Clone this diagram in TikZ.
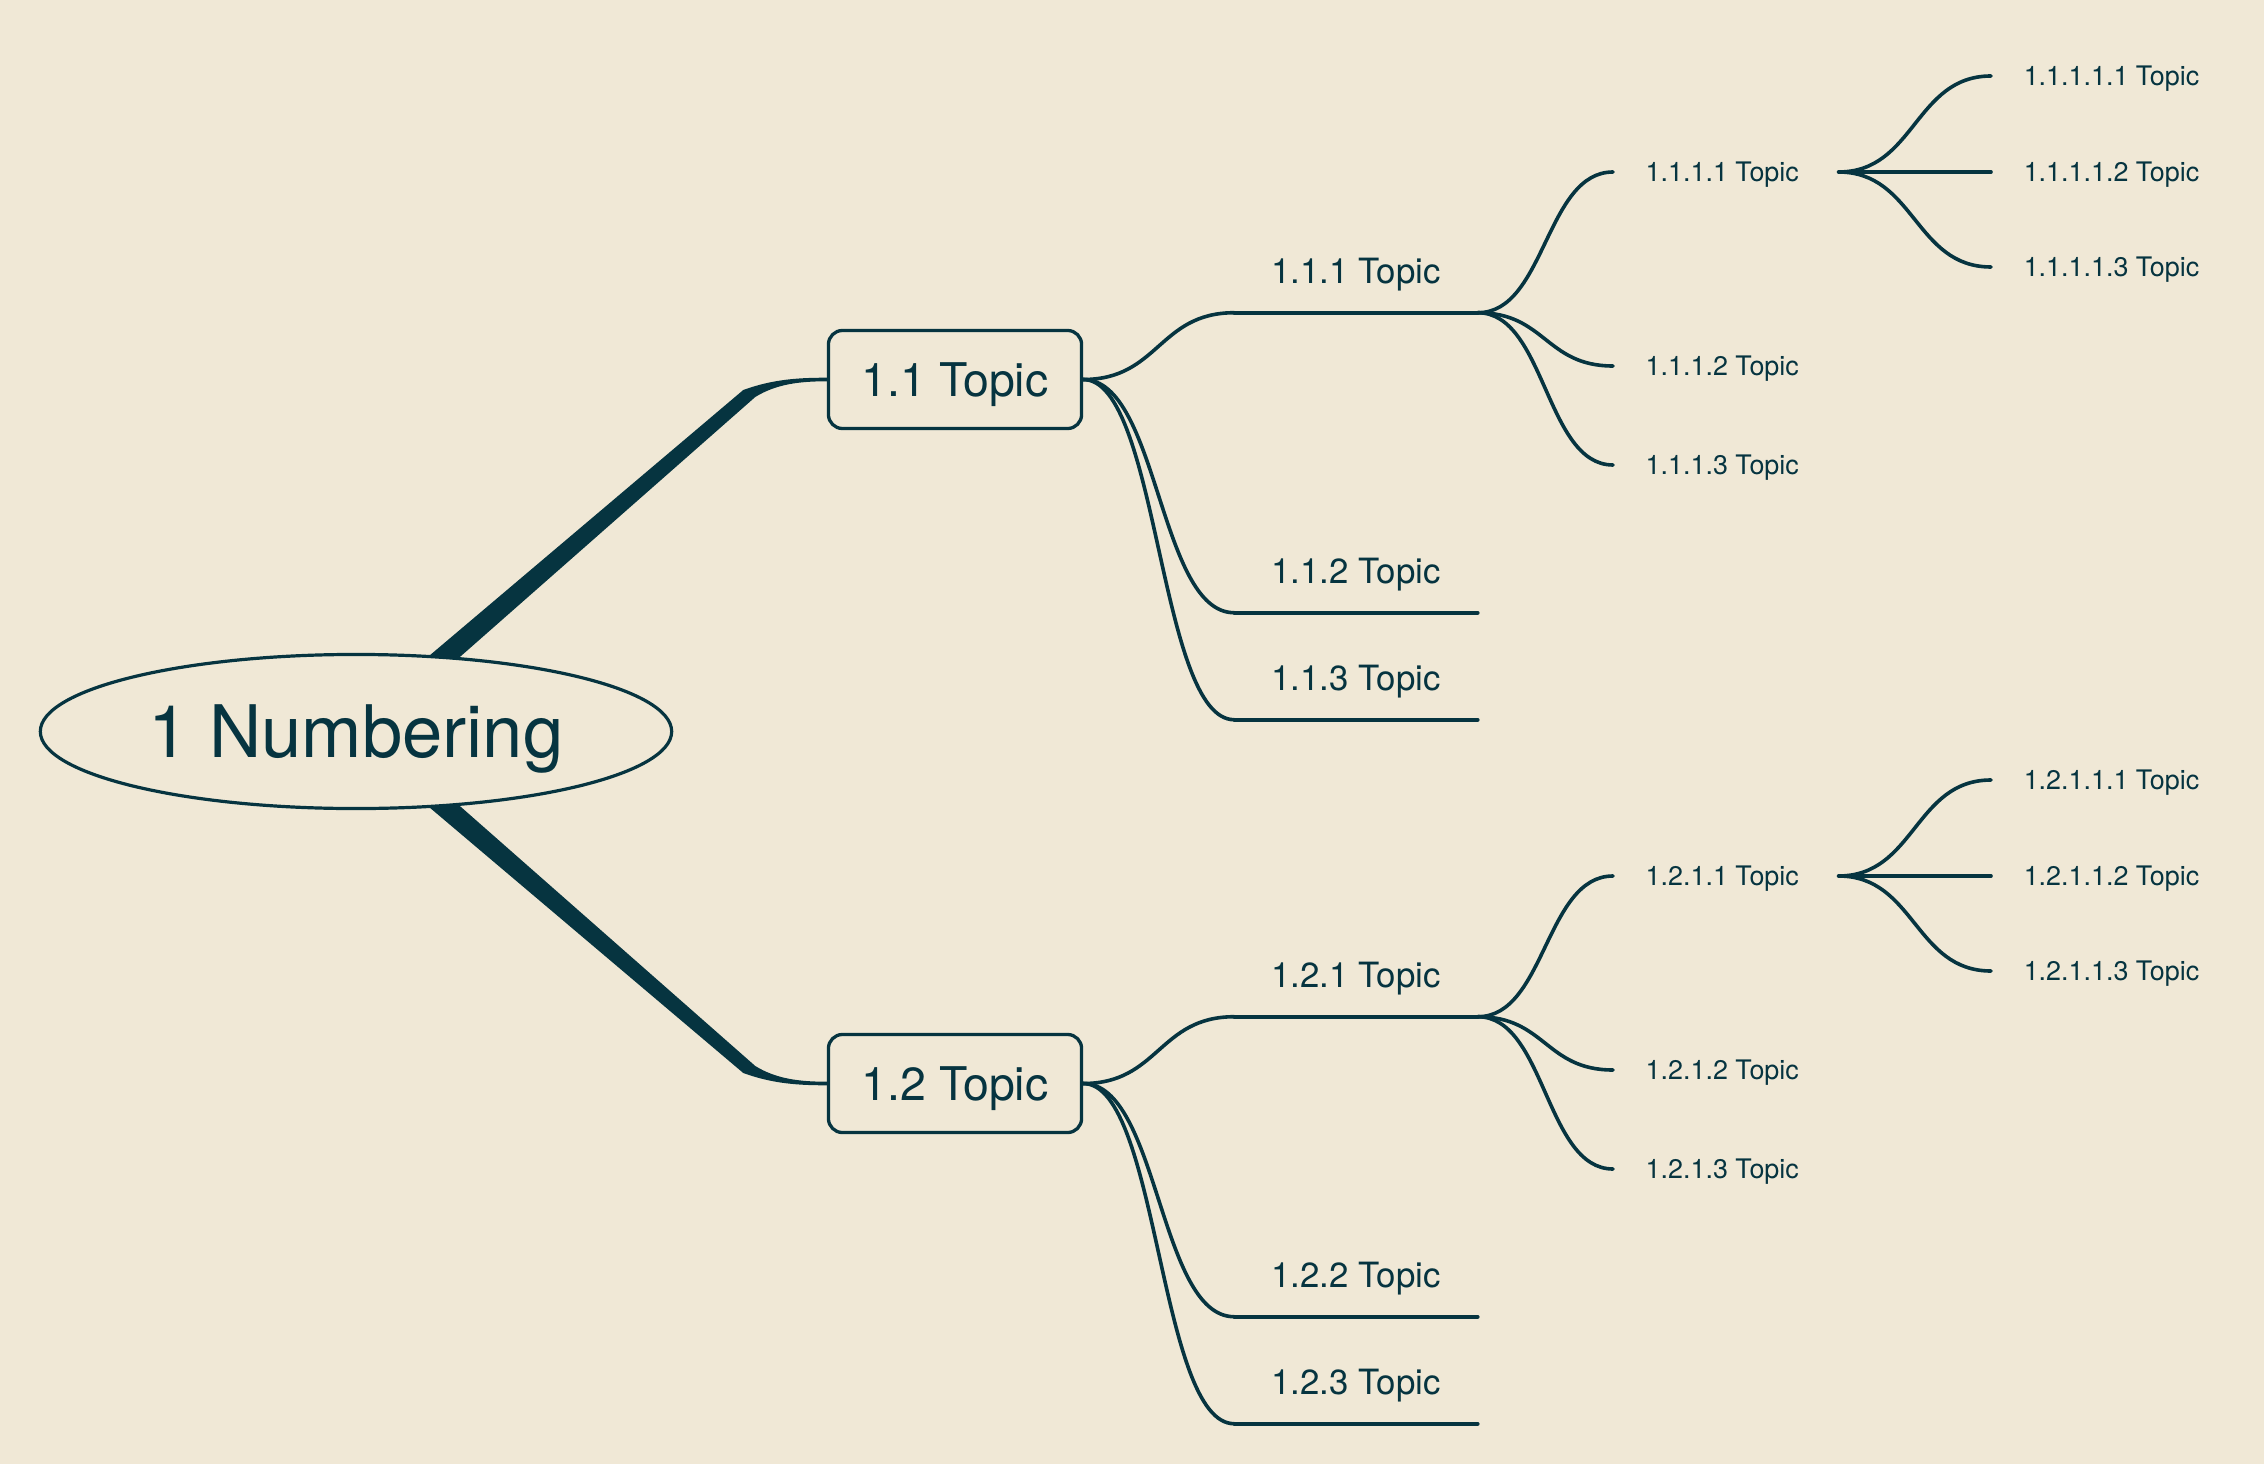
\documentclass[tikz,border=0pt]{standalone}
\usepackage{fontspec}
\setmainfont{TeX Gyre Heros}
\usepackage{tikz}
\usetikzlibrary{positioning,calc}
\usetikzlibrary{shapes.geometric}

\definecolor{paper}{RGB}{240,232,214}
\definecolor{ink}{RGB}{6,52,64}

\tikzset{
  rootnode/.style={draw=ink, ellipse, fill=paper, line width=0.32mm, inner sep=0pt, minimum width=6.31cm, minimum height=1.54cm, text=ink, text depth=0pt, font=\fontsize{20.6}{24}\selectfont},
  topicbox/.style={draw=ink, rectangle, rounded corners=1.4mm, fill=paper, line width=0.33mm, inner sep=0pt, minimum width=2.53cm, minimum height=0.98cm, text=ink, text depth=0pt, font=\fontsize{13.2}{16}\selectfont},
  subtopic/.style={inner sep=0pt, minimum width=2.42cm, minimum height=0.82cm, text=ink, text depth=0pt, font=\fontsize{9.9}{12}\selectfont},
  leaf/.style={anchor=west, inner ysep=0pt, inner xsep=3.2mm, text=ink, text depth=0pt, font=\fontsize{7.65}{9}\selectfont},
  branch/.style={draw=ink, line width=0.36mm, line cap=round,
    to path={let \p1=(\tikztostart), \p2=(\tikztotarget) in
      .. controls (\x1/2+\x2/2,\y1) and (\x1/2+\x2/2,\y2) .. (\tikztotarget)}},
  underline/.style={draw=ink, line width=0.36mm, line cap=round},
}

\begin{document}
\begin{tikzpicture}[x=0.01cm, y=-0.01cm]
    \fill [paper] (0,0) rectangle (2264,1464);
    \useasboundingbox (0,0) rectangle (2264,1464);

    % Nodes
    \node [topicbox] (topic11) at (955,379.5) {1.1 Topic};
    \node [topicbox] (topic12) at (955,1083.5) {1.2 Topic};

    % thick branches from the root
    \coordinate (rootc) at (356,731.5);
    \fill [ink] ($(rootc)+(21,-31.5)$) -- ($(topic11.west)+(-83.5,10.5)$)
        .. controls +(30,-11) and +(-27,0) .. ($(topic11.west)+(0,-1.8)$)
        -- ($(topic11.west)+(0,1.8)$)
        .. controls +(-27,0) and +(21,-13) .. ($(topic11.west)+(-71.5,17.5)$)
        -- ($(rootc)+(55,-31.5)$) -- cycle;
    \fill [ink] ($(rootc)+(21,31.5)$) -- ($(topic12.west)+(-83.5,-10.5)$)
        .. controls +(30,11) and +(-27,0) .. ($(topic12.west)+(0,1.8)$)
        -- ($(topic12.west)+(0,-1.8)$)
        .. controls +(-27,0) and +(21,13) .. ($(topic12.west)+(-71.5,-17.5)$)
        -- ($(rootc)+(55,31.5)$) -- cycle;

    \node [rootnode] (root) at (rootc) {1 Numbering};

    \node [subtopic] (t111) at (1356,271) {1.1.1 Topic};
    \node [subtopic] (t112) at (1356,571) {1.1.2 Topic};
    \node [subtopic] (t113) at (1356,678) {1.1.3 Topic};
    \node [subtopic] (t121) at (1356,975) {1.2.1 Topic};
    \node [subtopic] (t122) at (1356,1275) {1.2.2 Topic};
    \node [subtopic] (t123) at (1356,1382) {1.2.3 Topic};

    \node [leaf] (t1111) at (1613,172) {1.1.1.1 Topic};
    \node [leaf] (t1112) at (1613,366) {1.1.1.2 Topic};
    \node [leaf] (t1113) at (1613,465) {1.1.1.3 Topic};
    \node [leaf] (t1211) at (1613,876) {1.2.1.1 Topic};
    \node [leaf] (t1212) at (1613,1070) {1.2.1.2 Topic};
    \node [leaf] (t1213) at (1613,1169) {1.2.1.3 Topic};

    \node [leaf] (t11111) at (1991,76) {1.1.1.1.1 Topic};
    \node [leaf] (t11112) at (1991,172) {1.1.1.1.2 Topic};
    \node [leaf] (t11113) at (1991,267) {1.1.1.1.3 Topic};
    \node [leaf] (t12111) at (1991,780) {1.2.1.1.1 Topic};
    \node [leaf] (t12112) at (1991,876) {1.2.1.1.2 Topic};
    \node [leaf] (t12113) at (1991,971) {1.2.1.1.3 Topic};

    % forks of the fifth level
    \coordinate (f1111) at ($(t1111.east)+(7,0)$);
    \coordinate (f1211) at ($(t1211.east)+(7,0)$);

    % Lines
    \foreach \s in {t111,t112,t113,t121,t122,t123}
        \draw [underline] (\s.south west) -- (\s.south east);

    \draw [branch] (topic11.east) to (t111.south west);
    \draw [branch] (topic11.east) to (t112.south west);
    \draw [branch] (topic11.east) to (t113.south west);
    \draw [branch] (topic12.east) to (t121.south west);
    \draw [branch] (topic12.east) to (t122.south west);
    \draw [branch] (topic12.east) to (t123.south west);

    \draw [branch] (t111.south east) to (t1111.west);
    \draw [branch] (t111.south east) to (t1112.west);
    \draw [branch] (t111.south east) to (t1113.west);
    \draw [branch] (t121.south east) to (t1211.west);
    \draw [branch] (t121.south east) to (t1212.west);
    \draw [branch] (t121.south east) to (t1213.west);

    \draw [branch] (f1111) to (t11111.west);
    \draw [branch] (f1111) to (t11112.west);
    \draw [branch] (f1111) to (t11113.west);
    \draw [branch] (f1211) to (t12111.west);
    \draw [branch] (f1211) to (t12112.west);
    \draw [branch] (f1211) to (t12113.west);
\end{tikzpicture}
\end{document}
